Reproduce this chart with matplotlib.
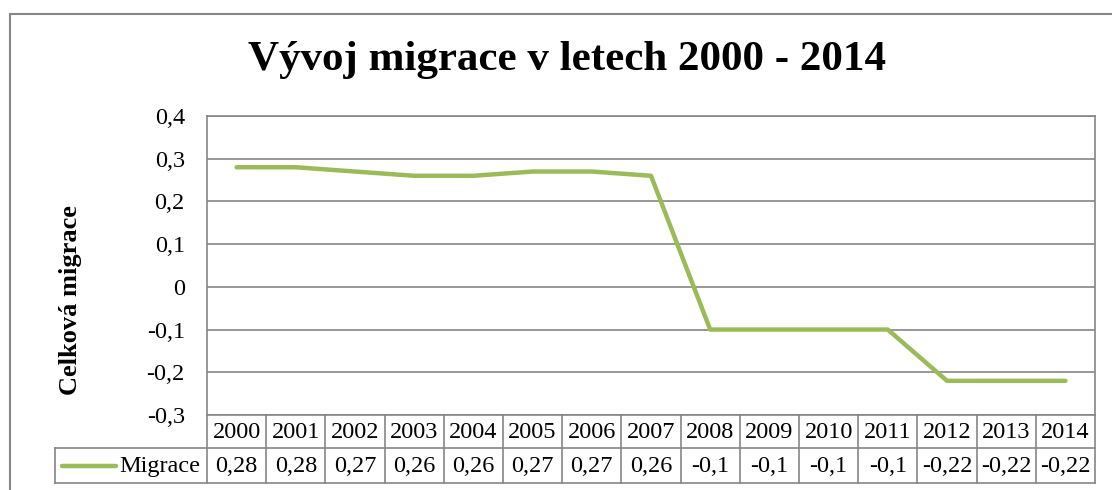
import matplotlib

matplotlib.use("Agg")
import matplotlib.pyplot as plt
from matplotlib.lines import Line2D
from matplotlib.patches import Rectangle

years = ["2000", "2001", "2002", "2003", "2004", "2005", "2006", "2007",
         "2008", "2009", "2010", "2011", "2012", "2013", "2014"]
migrace = [0.28, 0.28, 0.27, 0.26, 0.26, 0.27, 0.27, 0.26,
           -0.1, -0.1, -0.1, -0.1, -0.22, -0.22, -0.22]
y_ticks = [0.4, 0.3, 0.2, 0.1, 0, -0.1, -0.2, -0.3]

W, H = 1112, 490
GREEN = "#9BBB59"
GRID = "#868686"
FONT = "Liberation Serif"
FS = 17.5

plt.rcParams["font.family"] = [FONT, "DejaVu Serif"]


def fx(px):
    return px / W


def fy(py):
    return 1 - py / H


def fmt(v):
    return f"{v:g}".replace(".", ",")


fig = plt.figure(figsize=(W / 100, H / 100), dpi=100)

# outer chart border (cut off on the right and bottom)
fig.add_artist(Rectangle((fx(10), fy(600)), fx(1200), fy(14) - fy(600),
                         transform=fig.transFigure, fill=False,
                         edgecolor=GRID, linewidth=1.5))

left, right, top, bottom = 207, 1095, 116, 415
ax = fig.add_axes([fx(left), fy(bottom), fx(right - left), fy(top) - fy(bottom)])
n = len(years)
ax.plot(range(n), migrace, color=GREEN, linewidth=3.2, solid_capstyle="round")
ax.set_xlim(-0.5, n - 0.5)
ax.set_ylim(-0.3, 0.4)
ax.set_yticks(y_ticks)
ax.set_yticklabels([fmt(v) for v in y_ticks], fontsize=FS)
ax.set_xticks([])
ax.tick_params(axis="y", length=0, pad=16)
ax.grid(axis="y", color=GRID, linewidth=1.2)
ax.set_axisbelow(True)
for s in ax.spines.values():
    s.set_color(GRID)
    s.set_linewidth(1.2)

# data table below the axes
row1, row2, row3 = 415, 448, 483
legend_left = 55
col_w = (right - left) / n


def hline(x0, x1, y):
    fig.add_artist(Line2D([fx(x0), fx(x1)], [fy(y), fy(y)], transform=fig.transFigure,
                          color=GRID, linewidth=1.2))


def vline(x, y0, y1):
    fig.add_artist(Line2D([fx(x), fx(x)], [fy(y0), fy(y1)], transform=fig.transFigure,
                          color=GRID, linewidth=1.2))


hline(legend_left, right, row2)
hline(legend_left, right, row3)
vline(legend_left, row2, row3)
for i in range(n + 1):
    vline(left + i * col_w, row1, row3)

for i, (yr, v) in enumerate(zip(years, migrace)):
    cx = left + (i + 0.5) * col_w
    fig.text(fx(cx), fy((row1 + row2) / 2 + 1), yr, ha="center", va="center", fontsize=FS)
    fig.text(fx(cx), fy((row2 + row3) / 2 + 1), fmt(v), ha="center", va="center", fontsize=FS)

fig.add_artist(Line2D([fx(62), fx(116)], [fy(466), fy(466)], transform=fig.transFigure,
                      color=GREEN, linewidth=3.2, solid_capstyle="round"))
fig.text(fx(119), fy(466), "Migrace", ha="left", va="center", fontsize=FS)

fig.text(fx(567), fy(60), "Vývoj migrace v letech 2000 - 2014", ha="center", va="center",
         fontsize=31, fontweight="bold")
fig.text(fx(70), fy(300), "Celková migrace", ha="center", va="center", rotation=90,
         fontsize=19, fontweight="bold")

fig.savefig("out.png", dpi=100)
